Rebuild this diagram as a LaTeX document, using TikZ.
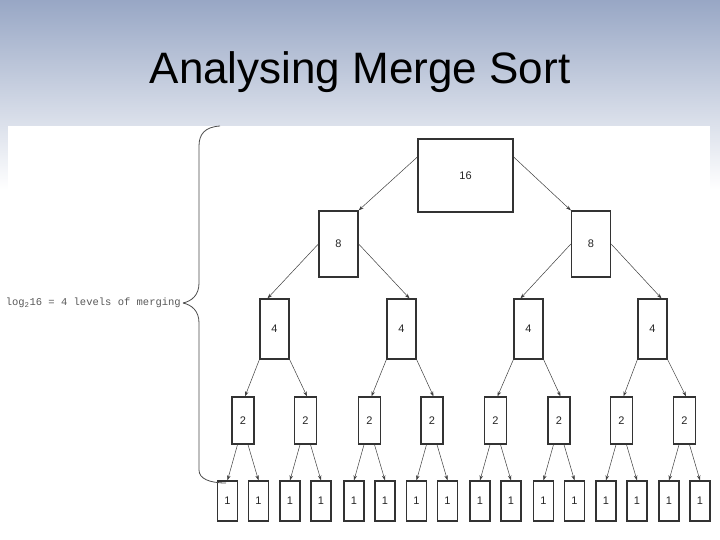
\documentclass[tikz,border=0pt]{standalone}
\usepackage{fontspec}
\setmainfont{Liberation Sans}
\newfontfamily\monof{Liberation Mono}
\usetikzlibrary{arrows.meta}
\definecolor{skytop}{HTML}{98A7C5}
\definecolor{skybot}{HTML}{FFFFFF}
\begin{document}
\begin{tikzpicture}[x=1pt,y=-1pt,
  bx/.style={draw=black!80, line width=1.3pt, inner sep=0pt, fill=white,
    font=\fontsize{11}{11}\selectfont, text=black!85},
  b16/.style={bx, minimum width=95pt, minimum height=73pt},
  b8/.style={bx, minimum width=39pt, minimum height=66pt},
  b4/.style={bx, minimum width=29pt, minimum height=60pt},
  b2/.style={bx, minimum width=22pt, minimum height=47pt},
  b1/.style={bx, minimum width=20pt, minimum height=40pt},
  arr/.style={draw=black!75, line width=0.5pt, -{Stealth[length=5pt,width=3.5pt]}},
  brace/.style={draw=black!70, line width=0.8pt}]
\useasboundingbox (0,0) rectangle (720,540);
\fill[white] (0,0) rectangle (720,540);
\shade[top color=skytop, bottom color=skybot] (0,0) rectangle (720,190);
\fill[white] (8,126) rectangle (710,540);
% title
\node[anchor=base, font=\fontsize{44}{44}\selectfont] (title) at (360,84) {Analysing Merge Sort};
% tree
\node[b16] (n16) at (465.5,175.5) {16};
\node[b8] (n8-1) at (338.5,244) {8};
\node[b8] (n8-2) at (591,244) {8};
\foreach \x [count=\i] in {274.5,401.5,528.5,652.5}
  \node[b4] (n4-\i) at (\x,329) {4};
\foreach \x [count=\i] in {243,305.5,369.5,432,495.5,559,621.5,684.5}
  \node[b2] (n2-\i) at (\x,420.5) {2};
\foreach \x [count=\i] in {227.5,258.5,290,321,354,385,416.5,447.5,480,511,543.5,574.5,606,637,669,700}
  \node[b1] (n1-\i) at (\x,501) {1};
% arrows
\draw[arr] ([yshift=18.5pt]n16.west) -- (n8-1.north east);
\draw[arr] ([yshift=18.5pt]n16.east) -- (n8-2.north west);
\draw[arr] (n8-1.west) -- ([xshift=-7pt]n4-1.north);
\draw[arr] (n8-1.east) -- ([xshift=8pt]n4-2.north);
\draw[arr] (n8-2.west) -- ([xshift=-8pt]n4-3.north);
\draw[arr] (n8-2.east) -- ([xshift=9pt]n4-4.north);
\foreach \i in {1,...,4}{
  \pgfmathtruncatemacro\l{2*\i-1}
  \pgfmathtruncatemacro\r{2*\i}
  \draw[arr] (n4-\i.south west) -- ([xshift=2pt]n2-\l.north);
  \draw[arr] (n4-\i.south east) -- ([xshift=1.5pt]n2-\r.north);
}
\foreach \i in {1,...,8}{
  \pgfmathtruncatemacro\l{2*\i-1}
  \pgfmathtruncatemacro\r{2*\i}
  \draw[arr] ([xshift=-5.5pt]n2-\i.south) -- (n1-\l.north);
  \draw[arr] ([xshift=5pt]n2-\i.south) -- (n1-\r.north);
}
% brace
\coordinate (tip) at (183,303);
\draw[brace] (220,126) .. controls (205,127) and (199,134) .. (199,146) -- (199,283) .. controls (199,295) and (192,301) .. (tip);
\draw[brace] (tip) .. controls (192,305) and (199,311) .. (199,323) -- (199,470) .. controls (199,479) and (210,483) .. (226,483);
\node[anchor=east, inner sep=2pt, text=black!65, font=\monof\fontsize{10.5}{10.5}\selectfont] (lbl) at (tip) {log\textsubscript{2}16 = 4 levels of merging};
\end{tikzpicture}
\end{document}
